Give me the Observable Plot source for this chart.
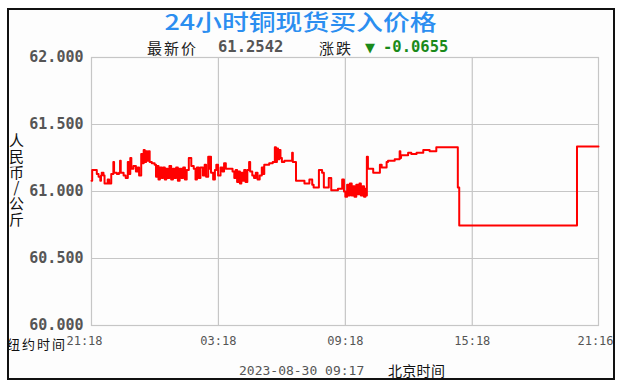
<!DOCTYPE html>
<html><head><meta charset="utf-8">
<script src="https://cdn.jsdelivr.net/npm/d3@7"></script>
<script src="https://cdn.jsdelivr.net/npm/@observablehq/plot@0.6"></script>
<style>
body{margin:0;background:#fff;}
#page{position:relative;width:625px;height:390px;overflow:hidden;background:#fff;}
#box{position:absolute;left:7px;top:8px;width:608px;height:372px;border:2px solid #111;box-sizing:border-box;background:#fdfdfd;}
.abs{position:absolute;white-space:nowrap;line-height:1;}
.cjk{font-family:"Noto Sans CJK SC",sans-serif;}
.mono{font-family:"DejaVu Sans Mono",monospace;}
#chart{position:absolute;left:-9px;top:37px;width:625px;height:300px;}
#chart svg{max-width:none !important;width:625px;height:300px;}
#chart svg g[aria-label="y-axis tick label"]{font-family:"DejaVu Sans Mono",monospace;font-size:15px;font-weight:bold;fill:#555;}
#ylab{writing-mode:vertical-rl;text-orientation:upright;letter-spacing:0.7px;line-height:17px;}
</style>
</head><body>
<div id="page"><div id="box">
  <div class="abs cjk" style="left:0;top:-1.5px;width:583px;text-align:center;line-height:22px;"><span id="title" style="display:inline-block;font-size:22px;line-height:22px;color:#2b8ef0;font-weight:500;transform:scaleX(1.22);transform-origin:center;"></span></div>
  <div class="abs cjk" id="lblLatest" style="left:138px;top:30px;font-size:15px;letter-spacing:2px;color:#222;"></div>
  <div class="abs mono" id="valLatest" style="left:209px;top:30px;font-size:15.5px;font-weight:bold;color:#555;"></div>
  <div class="abs cjk" id="lblChange" style="left:310px;top:30px;font-size:15px;letter-spacing:2px;color:#222;"></div>
  <div class="abs" style="left:356px;top:31px;font-size:13px;font-family:'DejaVu Sans',sans-serif;color:#1a8a1a;">▼</div>
  <div class="abs mono" id="valChange" style="left:374px;top:30px;font-size:15.5px;font-weight:bold;color:#1a8a1a;"></div>
  <div class="abs cjk" id="ylab" style="left:-1px;top:123px;font-size:15px;color:#111;"></div>
  <div class="abs cjk" id="nyLabel" style="left:-2px;top:326.8px;font-size:13px;letter-spacing:2px;color:#111;"></div>
  <div class="abs mono" id="stamp" style="left:230px;top:353.5px;font-size:13px;color:#555;"></div>
  <div class="abs cjk" id="bjLabel" style="left:379px;top:353px;font-size:14px;letter-spacing:0.3px;color:#111;"></div>
  <div id="chart"></div>
</div></div>
<script>
// ---- data ----
const titleText = "24小时铜现货买入价格";
const latestLabel = "最新价";
const latestValue = "61.2542";
const changeLabel = "涨跌";
const changeValue = "-0.0655";
const yAxisLabel = "人民币/公斤";
const nyTimeLabel = "纽约时间";
const stampText = "2023-08-30 09:17";
const bjTimeLabel = "北京时间";

// minutes after 21:18 (New York time)
const minutes = [0,2,15,20,25,27,29,34,37,46,50,56,62,64,72,78,81,83,91,97,103,105,110,113,119,126,131,135,141,145,148,151,155,158,162,165,171,179,183,186,190,194,199,203,208,212,216,221,226,231,235,240,245,250,255,260,265,270,276,283,290,295,299,304,309,316,321,325,331,334,336,339,345,350,354,359,366,371,376,381,395,400,405,409,413,417,421,425,429,433,437,442,447,450,456,461,466,471,477,483,487,490,504,514,520,523,526,529,533,536,540,547,569,571,580,604,618,626,630,645,654,659,673,680,699,711,716,720,725,729,733,738,742,746,751,755,760,764,769,773,777,780,781,784,799,818,823,837,841,860,874,876,878,898,907,922,941,959,978,1039,1043,1377,1438];
const prices = [61.08,61.16,61.13,61.11,61.08,61.12,61.14,61.12,61.06,61.09,61.06,61.13,61.22,61.14,61.13,61.14,61.23,61.14,61.12,61.10,61.22,61.13,61.25,61.17,61.19,61.15,61.18,61.12,61.28,61.21,61.31,61.22,61.30,61.23,61.30,61.22,61.21,61.20,61.11,61.19,61.09,61.18,61.10,61.18,61.09,61.17,61.10,61.19,61.09,61.17,61.10,61.18,61.08,61.17,61.10,61.18,61.09,61.16,61.25,61.19,61.17,61.09,61.18,61.10,61.18,61.12,61.20,61.11,61.26,61.17,61.26,61.14,61.09,61.16,61.20,61.12,61.18,61.15,61.21,61.17,61.17,61.15,61.10,61.16,61.07,61.15,61.06,61.14,61.08,61.16,61.07,61.16,61.22,61.15,61.12,61.10,61.14,61.09,61.12,61.18,61.13,61.20,61.21,61.22,61.33,61.22,61.32,61.24,61.31,61.25,61.22,61.23,61.29,61.22,61.08,61.06,61.09,61.05,61.03,61.16,61.14,61.03,61.10,61.01,61.02,61.09,61.00,60.96,61.05,60.97,61.06,60.97,61.04,60.96,61.05,60.98,61.06,60.97,61.04,60.96,61.02,60.97,61.26,61.17,61.14,61.20,61.18,61.22,61.23,61.24,61.30,61.25,61.27,61.29,61.28,61.29,61.31,61.30,61.33,61.03,60.746,61.335,61.335];

const yTicks = [60, 60.5, 61, 61.5, 62];
const xTickMinutes = [0, 360, 720, 1080, 1438];
const xTickLabels = ["21:18", "03:18", "09:18", "15:18", "21:16"];

// ---- text ----
document.getElementById("title").textContent = titleText;
document.getElementById("lblLatest").textContent = latestLabel;
document.getElementById("valLatest").textContent = latestValue;
document.getElementById("lblChange").textContent = changeLabel;
document.getElementById("valChange").textContent = changeValue;
document.getElementById("ylab").textContent = yAxisLabel;
document.getElementById("nyLabel").textContent = nyTimeLabel;
document.getElementById("stamp").textContent = stampText;
document.getElementById("bjLabel").textContent = bjTimeLabel;

// ---- chart ----
const data = minutes.map((m, i) => ({m, p: prices[i]}));
const ticks = xTickMinutes.map((m, i) => ({m, label: xTickLabels[i]}));
const gridColor = "#c6c6c6";
const tickFont = {fontFamily: "DejaVu Sans Mono", fontSize: 12, fill: "#555"};

const chart = Plot.plot({
  width: 625,
  height: 300,
  marginTop: 10,
  marginBottom: 22,
  marginLeft: 91,
  marginRight: 27,
  style: {background: "transparent", overflow: "visible"},
  x: {domain: [0, 1438], axis: null},
  y: {domain: [60, 62], axis: null},
  marks: [
    Plot.ruleY(yTicks.slice(1, -1), {stroke: gridColor, strokeWidth: 1.2}),
    Plot.ruleX(xTickMinutes.slice(1, -1), {stroke: gridColor, strokeWidth: 1.2}),
    Plot.frame({stroke: gridColor, strokeWidth: 1.2}),
    Plot.axisY(yTicks, {tickSize: 0, tickPadding: 8, tickFormat: d3.format(".3f"), label: null}),
    Plot.text(ticks.slice(0, 1), {x: "m", y: () => 60, text: "label", dy: 16, dx: -7, ...tickFont}),
    Plot.text(ticks.slice(1, -1), {x: "m", y: () => 60, text: "label", dy: 16, ...tickFont}),
    Plot.text(ticks.slice(-1), {x: "m", y: () => 60, text: "label", dy: 16, dx: -3, ...tickFont}),
    Plot.line(data, {x: "m", y: "p", curve: "step-after", stroke: "#ff0000", strokeWidth: 2})
  ]
});
document.getElementById("chart").appendChild(chart);
</script>
</body></html>
